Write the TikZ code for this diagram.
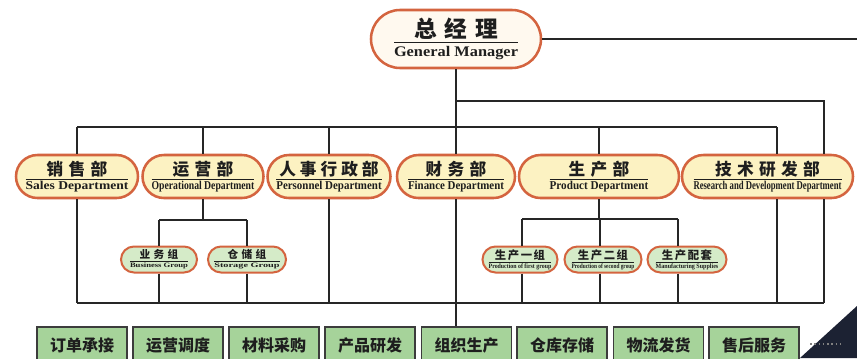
\documentclass[tikz,border=0pt]{standalone}
\usepackage{fontspec}
\usepackage{graphicx}
\setmainfont{Liberation Serif}
\newfontfamily\cjk{Noto Sans CJK SC}
\usetikzlibrary{shapes.misc}
\definecolor{bd}{HTML}{D4643F}
\definecolor{gmfill}{HTML}{FFF9EF}
\definecolor{deptfill}{HTML}{FCF2C2}
\definecolor{grpfill}{HTML}{D5EBC8}
\definecolor{boxfill}{HTML}{A6D39A}
\definecolor{boxbd}{HTML}{3C3C3C}
\definecolor{lc}{HTML}{262626}
\definecolor{txt}{HTML}{1E1E1E}
\definecolor{navy}{HTML}{1C2233}
% #1 cjk size, #2 cjk text, #3 width, #4 eng size, #5 eng text, #6 kern above rule, #7 kern below rule
\newcommand{\pilltext}[7]{\vbox{%
  \hbox to #3{\hss{\fontsize{#1}{#1}\cjk\bfseries #2}\hss}%
  \kern#6\hrule width #3 height .5pt\kern#7%
  \hbox to #3{\hss\resizebox{#3}{\height}{\fontsize{#4}{#4}\selectfont\bfseries #5}\hss}}}
\tikzset{
  conn/.style={draw=lc, line width=1.4pt},
  pill/.style={rounded rectangle, draw=bd, line width=1.9pt, inner sep=0pt, text=txt},
  gmbox/.style={pill, fill=gmfill, minimum width=127.5pt, minimum height=43.5pt},
  dept/.style={pill, fill=deptfill, minimum height=32.25pt},
  grp/.style={pill, fill=grpfill, line width=1.5pt, minimum height=19.5pt},
  task/.style={rectangle, draw=boxbd, line width=1.2pt, fill=boxfill, minimum width=67.5pt,
    minimum height=27pt, inner sep=0pt, font=\cjk\bfseries\fontsize{12pt}{12pt}\selectfont, text=txt},
}
\begin{document}
\begin{tikzpicture}[x=0.75pt,y=-0.75pt]
\clip (0,0) rectangle (857,358);
\fill[white] (0,0) rectangle (857,358);
% General manager
\node[gmbox] (gm) at (456,39) {\pilltext{17pt}{总\hspace{6pt}经\hspace{6pt}理}{93pt}{11pt}{General Manager}{2pt}{3pt}};
% departments
\node[dept, minimum width=91.5pt] (sales) at (77,176.5) {\pilltext{12.5pt}{销\hspace{4pt}售\hspace{4pt}部}{77pt}{9pt}{Sales Department}{1.5pt}{1.5pt}};
\node[dept, minimum width=90.75pt] (oper) at (203,176.5) {\pilltext{12.5pt}{运\hspace{4pt}营\hspace{4pt}部}{77pt}{9pt}{Operational Department}{1.5pt}{1.5pt}};
\node[dept, minimum width=92.25pt] (pers) at (329,176.5) {\pilltext{12.5pt}{人\hspace{3pt}事\hspace{3pt}行\hspace{3pt}政\hspace{3pt}部}{79pt}{9pt}{Personnel Department}{1.5pt}{1.5pt}};
\node[dept, minimum width=88.5pt] (fin) at (456,176.5) {\pilltext{12.5pt}{财\hspace{4pt}务\hspace{4pt}部}{72pt}{9pt}{Finance Department}{1.5pt}{1.5pt}};
\node[dept, minimum width=120pt] (prod) at (599,176.5) {\pilltext{12.5pt}{生\hspace{4pt}产\hspace{4pt}部}{74pt}{9pt}{Product Department}{1.5pt}{1.5pt}};
\node[dept, minimum width=128.25pt] (rd) at (767.5,176.5) {\pilltext{12.5pt}{技\hspace{4pt}术\hspace{4pt}研\hspace{4pt}发\hspace{4pt}部}{111pt}{9pt}{Research and Development Department}{1.5pt}{1.5pt}};
% groups
\node[grp, minimum width=57pt] (bus) at (159,259.5) {\pilltext{8pt}{业\hspace{2.5pt}务\hspace{2.5pt}组}{43.5pt}{5pt}{Business Group}{1pt}{1pt}};
\node[grp, minimum width=58.5pt] (stor) at (247,259.5) {\pilltext{8pt}{仓\hspace{2.5pt}储\hspace{2.5pt}组}{49pt}{5pt}{Storage Group}{1pt}{1pt}};
\node[grp, minimum width=56.25pt] (g1) at (520,259.5) {\pilltext{8.5pt}{生\hspace{1.2pt}产\hspace{1.2pt}一\hspace{1.2pt}组}{47pt}{5pt}{Production of first group}{1pt}{1pt}};
\node[grp, minimum width=57.75pt] (g2) at (603,259.5) {\pilltext{8.5pt}{生\hspace{1.2pt}产\hspace{1.2pt}二\hspace{1.2pt}组}{47pt}{5pt}{Production of second group}{1pt}{1pt}};
\node[grp, minimum width=59.25pt] (g3) at (687,259.5) {\pilltext{8.5pt}{生\hspace{1.2pt}产\hspace{1.2pt}配\hspace{1.2pt}套}{47pt}{5pt}{Manufacturing Supplies}{1pt}{1pt}};
% bottom tasks
\node[task] (b1) at (82,345) {订单承接};
\node[task] (b2) at (178,345) {运营调度};
\node[task] (b3) at (274,345) {材料采购};
\node[task] (b4) at (370,345) {产品研发};
\node[task] (b5) at (466.5,345) {组织生产};
\node[task] (b6) at (562,345) {仓库存储};
\node[task] (b7) at (658.5,345) {物流发货};
\node[task] (b8) at (754,345) {售后服务};
% junction coordinates
\coordinate (gmR) at (870,39);
\coordinate (j1) at (456,101);
\coordinate (rdB) at (824,101);
\coordinate (h2L) at (77,127);
\coordinate (h2R) at (777,127);
\coordinate (o1) at (159,220);
\coordinate (o2) at (247,220);
\coordinate (p1j) at (522,219);
\coordinate (p2j) at (600,219);
\coordinate (p3j) at (678,219);
\coordinate (bL) at (77,303);
\coordinate (bR) at (824,303);
% connectors top
\draw[conn] (gm.east) -- (gmR);
\draw[conn] (gm.south) -- (fin.north);
\draw[conn] (j1) -- (rdB) -- (rdB |- rd.north);
\draw[conn] (h2L) -- (h2R);
\draw[conn] (h2L) -- (sales.north);
\draw[conn] (oper.north |- h2L) -- (oper.north);
\draw[conn] (pers.north |- h2L) -- (pers.north);
\draw[conn] (prod.north |- h2L) -- (prod.north);
\draw[conn] (h2R) -- (h2R |- rd.north);
% connectors lower
\draw[conn] (bL) -- (bR);
\draw[conn] (sales.south) -- (bL);
\draw[conn] (oper.south) -- (oper.south |- o1);
\draw[conn] (o1) -- (o2);
\draw[conn] (o1) -- (bus.north);
\draw[conn] (o2) -- (stor.north);
\draw[conn] (bus.south) -- (bus.south |- bL);
\draw[conn] (stor.south) -- (stor.south |- bL);
\draw[conn] (pers.south) -- (pers.south |- bL);
\draw[conn] (fin.south) -- (fin.south |- b5.north);
\draw[conn] (prod.south) -- (prod.south |- p2j);
\draw[conn] (p1j) -- (p3j);
\draw[conn] (p1j) -- (p1j |- g1.north);
\draw[conn] (p2j) -- (p2j |- g2.north);
\draw[conn] (p3j) -- (p3j |- g3.north);
\draw[conn] (p1j |- g1.south) -- (p1j |- bL);
\draw[conn] (p2j |- g2.south) -- (p2j |- bL);
\draw[conn] (p3j |- g3.south) -- (p3j |- bL);
\draw[conn] (h2R |- rd.south) -- (h2R |- bL);
\draw[conn] (rdB |- rd.south) -- (bR);
% corner overlay
\fill[navy] (800,358) -- (857,306) -- (857,358) -- cycle;
\draw[gray, line width=1.2pt, dotted] (810,344) -- (842,344);
\end{tikzpicture}
\end{document}
